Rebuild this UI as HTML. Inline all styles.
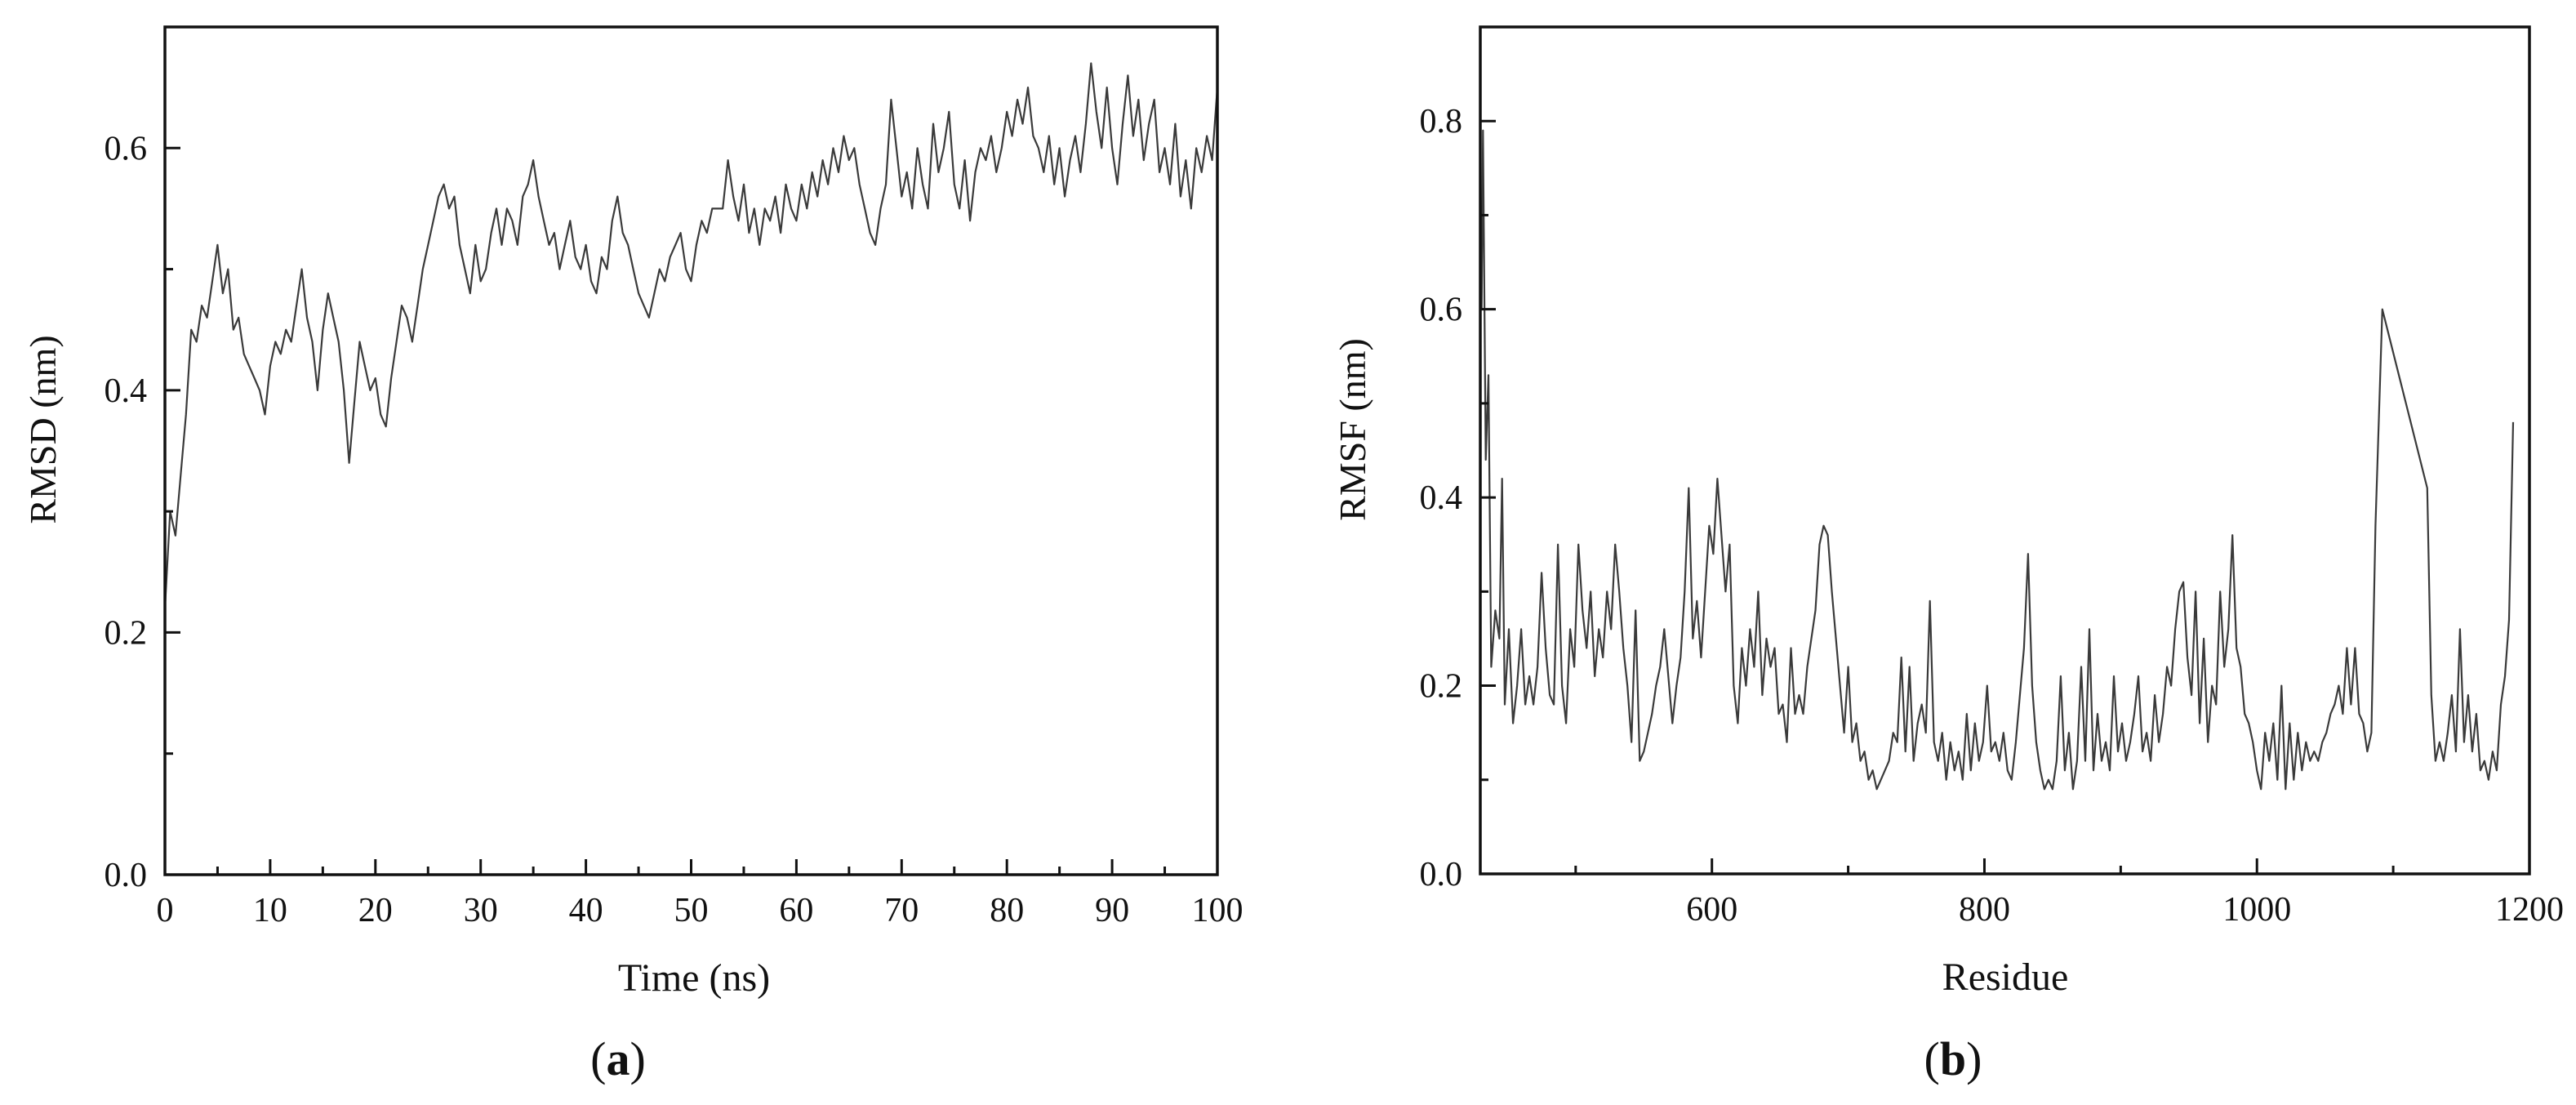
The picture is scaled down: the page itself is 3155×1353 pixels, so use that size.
<!DOCTYPE html>
<html><head><meta charset="utf-8"><style>
html,body{margin:0;padding:0;background:#fff;}
svg{display:block;font-family:"Liberation Serif",serif;}
</style></head><body>
<svg id="fig" width="3155" height="1353" viewBox="0 0 3155 1353" xmlns="http://www.w3.org/2000/svg">
<rect x="0" y="0" width="3155" height="1353" fill="#fff"/>
<g id="pa"></g>
<g id="pb"></g>
<text x="757" y="1316" font-size="58" text-anchor="middle" fill="#111">(<tspan font-weight="bold">a</tspan>)</text>
<text x="2392" y="1316" font-size="58" text-anchor="middle" fill="#111">(<tspan font-weight="bold">b</tspan>)</text>
</svg>
<script>
const rmsdValues=[0.22,0.30,0.28,0.33,0.38,0.45,0.44,0.47,0.46,0.49,0.52,0.48,0.50,0.45,0.46,0.43,0.42,0.41,0.40,0.38,0.42,0.44,0.43,0.45,0.44,0.47,0.50,0.46,0.44,0.40,0.45,0.48,0.46,0.44,0.40,0.34,0.39,0.44,0.42,0.40,0.41,0.38,0.37,0.41,0.44,0.47,0.46,0.44,0.47,0.50,0.52,0.54,0.56,0.57,0.55,0.56,0.52,0.50,0.48,0.52,0.49,0.50,0.53,0.55,0.52,0.55,0.54,0.52,0.56,0.57,0.59,0.56,0.54,0.52,0.53,0.50,0.52,0.54,0.51,0.50,0.52,0.49,0.48,0.51,0.50,0.54,0.56,0.53,0.52,0.50,0.48,0.47,0.46,0.48,0.50,0.49,0.51,0.52,0.53,0.50,0.49,0.52,0.54,0.53,0.55,0.55,0.55,0.59,0.56,0.54,0.57,0.53,0.55,0.52,0.55,0.54,0.56,0.53,0.57,0.55,0.54,0.57,0.55,0.58,0.56,0.59,0.57,0.60,0.58,0.61,0.59,0.60,0.57,0.55,0.53,0.52,0.55,0.57,0.64,0.60,0.56,0.58,0.55,0.60,0.57,0.55,0.62,0.58,0.60,0.63,0.57,0.55,0.59,0.54,0.58,0.60,0.59,0.61,0.58,0.60,0.63,0.61,0.64,0.62,0.65,0.61,0.60,0.58,0.61,0.57,0.60,0.56,0.59,0.61,0.58,0.62,0.67,0.63,0.60,0.65,0.60,0.57,0.62,0.66,0.61,0.64,0.59,0.62,0.64,0.58,0.60,0.57,0.62,0.56,0.59,0.55,0.60,0.58,0.61,0.59,0.65];
const rmsdXTicks=[0,10,20,30,40,50,60,70,80,90,100];
const rmsdYTicks=["0.0","0.2","0.4","0.6"];

const residues=[431,432,434,436,438,441,444,446,448,451,454,457,460,463,466,469,472,475,478,481,484,487,490,493,496,499,502,505,508,511,514,517,520,523,526,529,532,535,538,541,544,547,550,553,556,559,562,565,568,571,574,577,580,583,586,589,592,595,598,601,604,607,610,613,616,619,622,625,628,631,634,637,640,643,646,649,652,655,658,661,664,667,670,673,676,679,682,685,688,691,694,697,700,703,706,709,712,715,718,721,724,727,730,733,736,739,742,745,748,751,754,757,760,763,766,769,772,775,778,781,784,787,790,793,796,799,802,805,808,811,814,817,820,823,826,829,832,835,838,841,844,847,850,853,856,859,862,865,868,871,874,877,880,883,886,889,892,895,898,901,904,907,910,913,916,919,922,925,928,931,934,937,940,943,946,949,952,955,958,961,964,967,970,973,976,979,982,985,988,991,994,997,1000,1003,1006,1009,1012,1015,1018,1021,1024,1027,1030,1033,1036,1039,1042,1045,1048,1051,1054,1057,1060,1063,1066,1069,1072,1075,1078,1081,1084,1087,1092,1125,1128,1131,1134,1137,1140,1143,1146,1149,1152,1155,1158,1161,1164,1167,1170,1173,1176,1179,1182,1185,1188];
const rmsfValues=[0.60,0.79,0.44,0.53,0.22,0.28,0.25,0.42,0.18,0.26,0.16,0.20,0.26,0.18,0.21,0.18,0.22,0.32,0.24,0.19,0.18,0.35,0.20,0.16,0.26,0.22,0.35,0.28,0.24,0.30,0.21,0.26,0.23,0.30,0.26,0.35,0.30,0.24,0.20,0.14,0.28,0.12,0.13,0.15,0.17,0.20,0.22,0.26,0.21,0.16,0.20,0.23,0.30,0.41,0.25,0.29,0.23,0.30,0.37,0.34,0.42,0.36,0.30,0.35,0.20,0.16,0.24,0.20,0.26,0.22,0.30,0.19,0.25,0.22,0.24,0.17,0.18,0.14,0.24,0.17,0.19,0.17,0.22,0.25,0.28,0.35,0.37,0.36,0.30,0.25,0.20,0.15,0.22,0.14,0.16,0.12,0.13,0.10,0.11,0.09,0.10,0.11,0.12,0.15,0.14,0.23,0.13,0.22,0.12,0.16,0.18,0.15,0.29,0.14,0.12,0.15,0.10,0.14,0.11,0.13,0.10,0.17,0.11,0.16,0.12,0.14,0.20,0.13,0.14,0.12,0.15,0.11,0.10,0.14,0.19,0.24,0.34,0.20,0.14,0.11,0.09,0.10,0.09,0.12,0.21,0.11,0.15,0.09,0.12,0.22,0.12,0.26,0.11,0.17,0.12,0.14,0.11,0.21,0.13,0.16,0.12,0.14,0.17,0.21,0.13,0.15,0.12,0.19,0.14,0.17,0.22,0.20,0.26,0.30,0.31,0.23,0.19,0.30,0.16,0.25,0.14,0.20,0.18,0.30,0.22,0.26,0.36,0.24,0.22,0.17,0.16,0.14,0.11,0.09,0.15,0.12,0.16,0.10,0.20,0.09,0.16,0.10,0.15,0.11,0.14,0.12,0.13,0.12,0.14,0.15,0.17,0.18,0.20,0.17,0.24,0.18,0.24,0.17,0.16,0.13,0.15,0.37,0.60,0.41,0.19,0.12,0.14,0.12,0.15,0.19,0.13,0.26,0.14,0.19,0.13,0.17,0.11,0.12,0.10,0.13,0.11,0.18,0.21,0.27,0.48];
const rmsfXTicks=[600,800,1000,1200];
const rmsfYTicks=["0.0","0.2","0.4","0.6","0.8"];

const NS="http://www.w3.org/2000/svg";
function mk(parent,tag,attrs){const e=document.createElementNS(NS,tag);for(const k in attrs)e.setAttribute(k,attrs[k]);parent.appendChild(e);return e;}

function panel(g,o){
  const sx=v=>o.x0+(v-o.xmin)/(o.xmax-o.xmin)*(o.x1-o.x0);
  const sy=v=>o.y0-(v-o.ymin)/(o.ymax-o.ymin)*(o.y0-o.y1);
  let d="";
  o.xs.forEach((x,i)=>{d+=(i?"L":"M")+sx(x).toFixed(1)+","+sy(o.ys[i]).toFixed(1);});
  const p=mk(g,"path",{d:d,fill:"none",stroke:"#3a3a3a","stroke-width":"2.2","stroke-linejoin":"round"});
  
  
  const frame=mk(g,"rect",{x:o.x0,y:o.y1,width:o.x1-o.x0,height:o.y0-o.y1,fill:"none",stroke:"#111","stroke-width":"3.5"});
  
  
  for(let v=o.xminor0;v<=o.xmax+1e-9;v+=o.xminor){
    const major=Math.abs(((v-o.xmajor0)/o.xmajor)-Math.round((v-o.xmajor0)/o.xmajor))<1e-6;
    const t=mk(g,"line",{x1:sx(v),x2:sx(v),y1:o.y0,y2:o.y0-(major?19:10),stroke:"#111","stroke-width":"3"});
    
    
  }
  o.xticks.forEach(v=>{
    const t=mk(g,"text",{x:sx(v),y:o.y0+57,"font-size":"42","text-anchor":"middle",fill:"#111"});
    t.textContent=String(v);
    
    
  });
  for(let v=0;v<=o.ymax+1e-9;v+=0.1){
    const major=Math.round(v*10)%2===0;
    const t=mk(g,"line",{x1:o.x0,x2:o.x0+(major?19:10),y1:sy(v),y2:sy(v),stroke:"#111","stroke-width":"3"});
    
    
  }
  o.yticks.forEach(s=>{
    const t=mk(g,"text",{x:o.x0-22,y:sy(parseFloat(s))+14,"font-size":"42","text-anchor":"end",fill:"#111"});
    t.textContent=s;
    
    
  });
  const xt=mk(g,"text",{x:o.xtx,y:o.y0+142,"font-size":"48","text-anchor":"middle",fill:"#111"});
  xt.textContent=o.xtitle;
  
  
  const yt=mk(g,"text",{x:0,y:0,"font-size":"46","text-anchor":"middle",fill:"#111",transform:`translate(${o.ytx},${o.yty}) rotate(-90)`});
  yt.textContent=o.ytitle;
  
  
}
const rmsdTimes=rmsdValues.map((v,i)=>i*100/(rmsdValues.length-1));
panel(document.getElementById('pa'),{x0:202,x1:1491,y0:1071,y1:33,xmin:0,xmax:100,ymin:0,ymax:0.7,xs:rmsdTimes,ys:rmsdValues,xminor0:0,xminor:5,xmajor0:0,xmajor:10,xticks:rmsdXTicks,yticks:rmsdYTicks,xtitle:"Time (ns)",xtx:850,ytitle:"RMSD (nm)",ytx:68,yty:526});
panel(document.getElementById('pb'),{x0:1813,x1:3098,y0:1070,y1:33,xmin:430,xmax:1200,ymin:0,ymax:0.9,xs:residues,ys:rmsfValues,xminor0:500,xminor:100,xmajor0:600,xmajor:200,xticks:rmsfXTicks,yticks:rmsfYTicks,xtitle:"Residue",xtx:2456,ytitle:"RMSF (nm)",ytx:1672,yty:526});
</script>
</body></html>
